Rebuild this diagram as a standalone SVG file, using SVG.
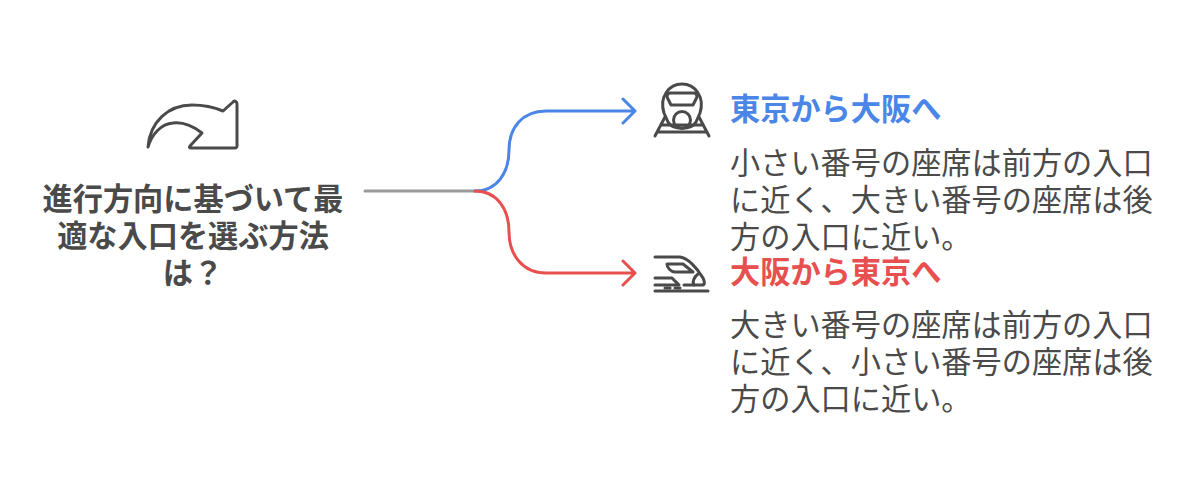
<svg xmlns="http://www.w3.org/2000/svg" width="1200" height="493" viewBox="0 0 1200 493">
<style>
text{font-family:"Noto Sans CJK JP","Noto Sans",sans-serif;fill:#4a4a4a;font-size:30.2px}
.h{font-weight:700;text-anchor:middle}
.t{font-weight:700}
.ic{fill:none;stroke:#4a4a4a;stroke-width:3;stroke-linecap:round;stroke-linejoin:round}
.c{fill:none;stroke-width:3;stroke-linecap:round;stroke-linejoin:round}
</style>
<rect width="1200" height="493" fill="#fff"/>
<g id="connectors">
<path class="c" stroke="#9a9a9a" d="M365 191H475"/>
<path class="c" stroke="#4a86e8" d="M475 191C497 191 509 173 509 150C509 128 522 111 546 111H635M623 99L635 111L623 123"/>
<path class="c" stroke="#e85050" d="M475 191C497 191 509 209 509 232C509 254 522 273 546 273H635M623 261L635 273L623 285"/>
</g>
<g id="root">
<path class="ic" d="M148 147C150 122 168 105 192 105C206 105 216 108 223 111L233 102C235 100 237 102 237 104V146C237 147 236 148 235 148H191C189 148 189 147 190 146L202 133C193 126 182 122 173 123C161 124 152 134 148 147Z"/>
<text class="h" x="193" y="210">進行方向に基づいて最</text>
<text class="h" x="193" y="247">適な入口を選ぶ方法</text>
<text class="h" x="193" y="284">は？</text>
</g>
<g id="tokyo-osaka">
<g class="ic">
<path d="M664 113C659 97 669 84 682 84C695 84 705 97 700 113L696 122C694 126 689 128 682 128C675 128 670 126 668 122Z"/>
<path d="M667 97C667 95 668 93 670 93H694C696 93 697 95 697 97L693 105H671Z"/>
<circle cx="682" cy="120" r="8.5"/>
<path d="M665 117L655 136M699 117L709 136M661 125H703M657 132H707"/>
</g>
<text class="t" x="730" y="120" style="fill:#4a86e8">東京から大阪へ</text>
<text x="730" y="174">小さい番号の座席は前方の入口</text>
<text x="730" y="211">に近く、大きい番号の座席は後</text>
<text x="730" y="248">方の入口に近い。</text>
</g>
<g id="osaka-tokyo">
<g class="ic">
<path d="M655 257H680C688 258 697 268 703 278C705 282 705 285 702 285H684"/>
<path d="M667 264H683L693 272H675C671 272 667 268 667 264Z"/>
<path d="M655 278H672L679 285H655"/>
<path d="M698 274C694 277 692 282 694 285"/>
<path d="M655 291H708"/>
<path d="M665 288H670M675 288H680"/>
</g>
<text class="t" x="730" y="283" style="fill:#e85050">大阪から東京へ</text>
<text x="730" y="336">大きい番号の座席は前方の入口</text>
<text x="730" y="373">に近く、小さい番号の座席は後</text>
<text x="730" y="410">方の入口に近い。</text>
</g>
</svg>
